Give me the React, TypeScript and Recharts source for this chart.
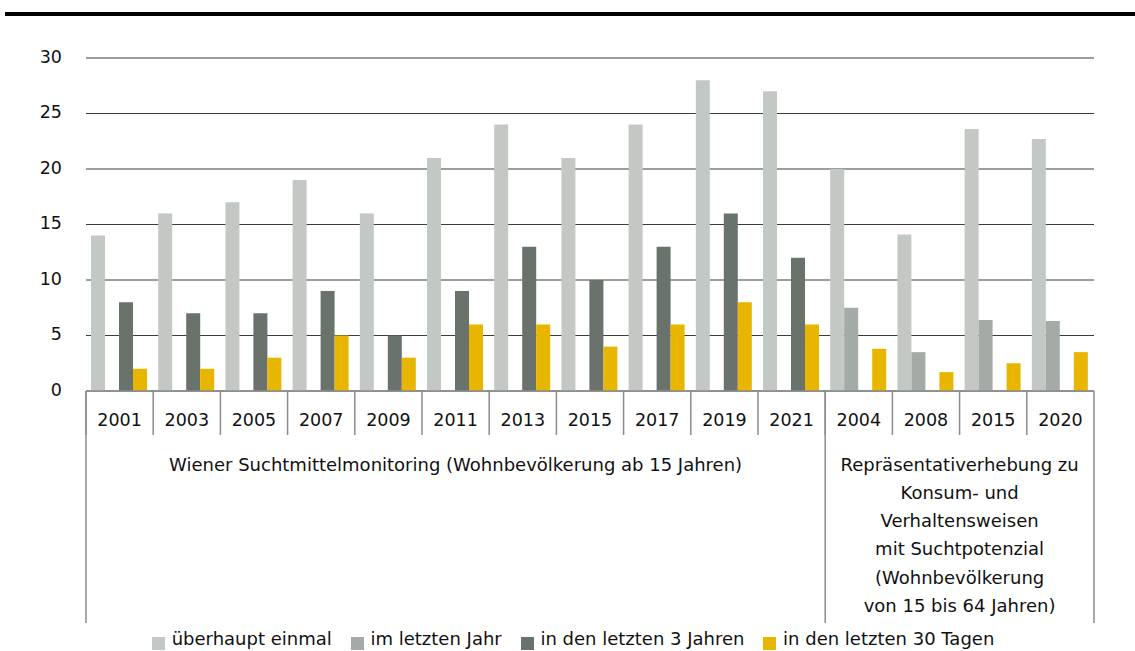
import React from 'react';
import { BarChart, Bar, XAxis, YAxis, CartesianGrid } from 'recharts';

const years = ['2001', '2003', '2005', '2007', '2009', '2011', '2013', '2015', '2017', '2019', '2021', '2004', '2008', '2015', '2020'];
const surveyGroup = [0, 0, 0, 0, 0, 0, 0, 0, 0, 0, 0, 1, 1, 1, 1];
const groupLabels = [
  ['Wiener Suchtmittelmonitoring (Wohnbevölkerung ab 15 Jahren)'],
  ['Repräsentativerhebung zu', 'Konsum- und', 'Verhaltensweisen', 'mit Suchtpotenzial', '(Wohnbevölkerung', 'von 15 bis 64 Jahren)'],
];

const everOnce = [14, 16, 17, 19, 16, 21, 24, 21, 24, 28, 27, 20, 14.1, 23.6, 22.7];
const lastYear = [null, null, null, null, null, null, null, null, null, null, null, 7.5, 3.5, 6.4, 6.3];
const last3Years = [8, 7, 7, 9, 5, 9, 13, 10, 13, 16, 12, null, null, null, null];
const last30Days = [2, 2, 3, 5, 3, 6, 6, 4, 6, 8, 6, 3.8, 1.7, 2.5, 3.5];

const seriesKeys = ['everOnce', 'lastYear', 'last3Years', 'last30Days'];
const seriesNames = ['überhaupt einmal', 'im letzten Jahr', 'in den letzten 3 Jahren', 'in den letzten 30 Tagen'];
const seriesColors = ['#c3c8c5', '#a4aba6', '#69736b', '#e8b500'];
const yTicks = [0, 5, 10, 15, 20, 25, 30];

const data = years.map((y, i) => ({
  key: `${surveyGroup[i]}-${y}`,
  everOnce: everOnce[i],
  lastYear: lastYear[i],
  last3Years: last3Years[i],
  last30Days: last30Days[i],
}));

const FONT = 'DejaVu Sans';
const FS_NUM = 17.5;
const FS_TEXT = 18;
const SEP = '#8c8c8c';

function CategoryTick(props: any) {
  const { x, y, index, width, visibleTicksCount } = props;
  const n = visibleTicksCount || years.length;
  const band = (typeof width === 'number' && width > 0 ? width : 1008) / n;
  const left = x - band / 2;
  const right = x + band / 2;
  const g = surveyGroup[index];
  const isGroupStart = index === 0 || surveyGroup[index - 1] !== g;
  const isLast = index === years.length - 1;
  const count = surveyGroup.filter((v) => v === g).length;
  const groupCenter = left + (count * band) / 2;
  return (
    <g>
      <line x1={left} x2={left} y1={y} y2={y + 44} stroke={SEP} strokeWidth={1.5} />
      {isLast && <line x1={right} x2={right} y1={y} y2={y + 232} stroke={SEP} strokeWidth={1.5} />}
      <text x={x} y={y + 35} textAnchor="middle" fontFamily={FONT} fontSize={FS_NUM} fill="#111">
        {years[index]}
      </text>
      {isGroupStart && (
        <g>
          <line x1={left} x2={left} y1={y} y2={y + 232} stroke={SEP} strokeWidth={1.5} />
          {groupLabels[g].map((line, li) => (
            <text
              key={li}
              x={groupCenter}
              y={y + 79.5 + li * 28.33}
              textAnchor="middle"
              fontFamily={FONT}
              fontSize={FS_TEXT}
              fill="#111"
            >
              {line}
            </text>
          ))}
        </g>
      )}
    </g>
  );
}

function ValueTick(props: any) {
  const { x, y, payload } = props;
  return (
    <text x={x} y={y} dy={4.5} textAnchor="end" fontFamily={FONT} fontSize={FS_NUM} fill="#111">
      {payload.value}
    </text>
  );
}

export default function App() {
  return (
    <div style={{ position: 'absolute', left: 0, top: 0, width: 1135, height: 651, background: '#fff', fontFamily: FONT }}>
      <div style={{ position: 'absolute', left: 5, top: 12, width: 1130, height: 3.5, background: '#000' }} />
      <BarChart
        width={1135}
        height={651}
        data={data}
        margin={{ top: 58, right: 41, left: 0, bottom: 230 }}
        barCategoryGap={5}
        barGap={0}
      >
        <CartesianGrid vertical={false} stroke="#3c3c3c" strokeWidth={1} />
        <XAxis
          dataKey="key"
          interval={0}
          tickLine={false}
          tickSize={0}
          tickMargin={0}
          height={30}
          axisLine={{ stroke: SEP, strokeWidth: 1.5 }}
          tick={(p: any) => <CategoryTick {...p} />}
        />
        <YAxis
          type="number"
          domain={[0, 30]}
          ticks={yTicks}
          width={86}
          axisLine={false}
          tickLine={false}
          tickSize={0}
          tickMargin={24}
          tick={(p: any) => <ValueTick {...p} />}
        />
        {seriesKeys.map((k, i) => (
          <Bar key={k} dataKey={k} name={seriesNames[i]} fill={seriesColors[i]} isAnimationActive={false} />
        ))}
      </BarChart>
      <div
        style={{
          position: 'absolute',
          left: 152,
          top: 627,
          height: 24,
          display: 'flex',
          alignItems: 'center',
          fontSize: FS_TEXT,
          lineHeight: '24px',
          color: '#111',
          whiteSpace: 'nowrap',
        }}
      >
        {seriesNames.map((name, i) => (
          <div key={name} style={{ display: 'flex', alignItems: 'center', marginRight: 19 }}>
            <span
              style={{
                display: 'inline-block',
                width: 13,
                height: 13,
                background: seriesColors[i],
                position: 'relative',
                top: 4.5,
                marginRight: 6.7,
              }}
            />
            <span>{name}</span>
          </div>
        ))}
      </div>
    </div>
  );
}
